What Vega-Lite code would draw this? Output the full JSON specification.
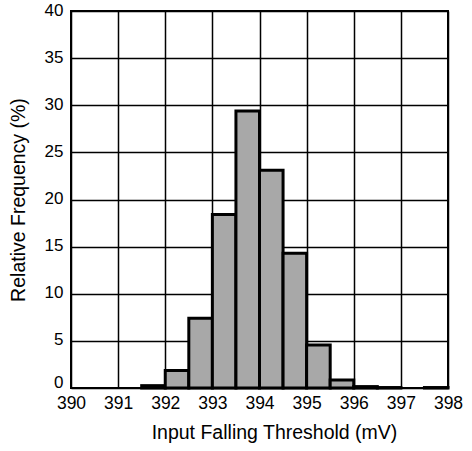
{
  "$schema": "https://vega.github.io/schema/vega-lite/v6.json",
  "width": 377,
  "height": 377,
  "autosize": "none",
  "padding": {"left": 71, "top": 11, "right": 24, "bottom": 63},
  "background": "white",
  "config": {
    "font": "Liberation Sans",
    "view": {"stroke": "black", "strokeWidth": 2}
  },
  "data": {
    "values": [
      {"lo": 391.5, "hi": 392.0, "freq": 0.25},
      {"lo": 392.0, "hi": 392.5, "freq": 1.85},
      {"lo": 392.5, "hi": 393.0, "freq": 7.4},
      {"lo": 393.0, "hi": 393.5, "freq": 18.4},
      {"lo": 393.5, "hi": 394.0, "freq": 29.4},
      {"lo": 394.0, "hi": 394.5, "freq": 23.1},
      {"lo": 394.5, "hi": 395.0, "freq": 14.3},
      {"lo": 395.0, "hi": 395.5, "freq": 4.55},
      {"lo": 395.5, "hi": 396.0, "freq": 0.85},
      {"lo": 396.0, "hi": 396.5, "freq": 0.15},
      {"lo": 396.5, "hi": 397.0, "freq": 0.05},
      {"lo": 397.5, "hi": 398.0, "freq": 0.05}
    ]
  },
  "mark": {"type": "bar", "fill": "#a8a8a8", "stroke": "black", "strokeWidth": 3, "strokeJoin": "miter"},
  "encoding": {
    "x": {
      "field": "lo", "type": "quantitative",
      "scale": {"domain": [390, 398], "nice": false, "zero": false},
      "axis": {
        "title": "Input Falling Threshold (mV)",
        "values": [390, 391, 392, 393, 394, 395, 396, 397, 398],
        "format": "d",
        "grid": true, "gridColor": "black", "gridOpacity": 1, "gridWidth": 1.5,
        "domain": false, "ticks": false,
        "labelFontSize": 17.5, "labelColor": "black", "labelPadding": 6,
        "labelFlush": false,
        "titleFontSize": 19.5, "titleFontWeight": "normal", "titleColor": "black", "titlePadding": 12,
        "titleX": 203, "titleAlign": "center", "titleAnchor": null
      }
    },
    "x2": {"field": "hi"},
    "y": {
      "field": "freq", "type": "quantitative",
      "scale": {"domain": [0, 40], "nice": false},
      "axis": {
        "title": "Relative Frequency (%)",
        "values": [0, 5, 10, 15, 20, 25, 30, 35, 40],
        "grid": true, "gridColor": "black", "gridOpacity": 1, "gridWidth": 1.5,
        "domain": false, "ticks": false,
        "labelFontSize": 17, "labelColor": "black", "labelPadding": 8,
        "labelFlush": false,
        "labelOffset": {"condition": {"test": "datum.value == 0", "value": -6}, "value": -1},
        "titleFontSize": 19.5, "titleFontWeight": "normal", "titleColor": "black", "titlePadding": 16
      }
    },
    "y2": {"datum": 0}
  }
}
